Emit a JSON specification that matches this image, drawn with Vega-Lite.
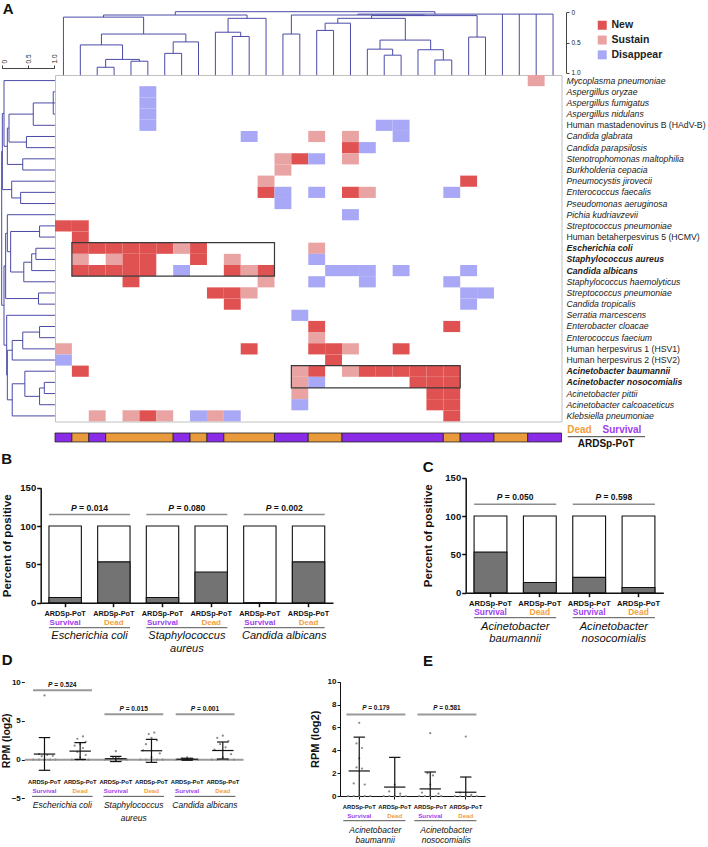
{
  "$schema": "https://vega.github.io/schema/vega-lite/v6.json",
  "width": 708,
  "height": 847,
  "autosize": {"type": "none"},
  "padding": 0,
  "background": "white",
  "config": {
    "view": {"stroke": null},
    "font": "Liberation Sans",
    "axis": {"labelFont": "Liberation Sans", "titleFont": "Liberation Sans", "grid": false, "labelOverlap": false},
    "text": {"font": "Liberation Sans"},
    "legend": {"labelFont": "Liberation Sans"}
  },
  "datasets": {
    "cells": [
      {"c":28,"r":0,"s":"Sustain"},
      {"c":5,"r":1,"s":"Disappear"},{"c":5,"r":2,"s":"Disappear"},{"c":5,"r":3,"s":"Disappear"},
      {"c":5,"r":4,"s":"Disappear"},{"c":19,"r":4,"s":"Disappear"},{"c":20,"r":4,"s":"Disappear"},
      {"c":11,"r":5,"s":"Disappear"},{"c":15,"r":5,"s":"Sustain"},{"c":17,"r":5,"s":"Sustain"},{"c":20,"r":5,"s":"Disappear"},
      {"c":17,"r":6,"s":"New"},{"c":18,"r":6,"s":"Disappear"},
      {"c":13,"r":7,"s":"Sustain"},{"c":14,"r":7,"s":"New"},{"c":15,"r":7,"s":"Disappear"},{"c":17,"r":7,"s":"Sustain"},
      {"c":13,"r":8,"s":"Sustain"},
      {"c":12,"r":9,"s":"Sustain"},{"c":24,"r":9,"s":"New"},
      {"c":12,"r":10,"s":"New"},{"c":13,"r":10,"s":"Disappear"},{"c":15,"r":10,"s":"Disappear"},{"c":17,"r":10,"s":"New"},{"c":18,"r":10,"s":"Sustain"},{"c":23,"r":10,"s":"Disappear"},
      {"c":13,"r":11,"s":"Disappear"},
      {"c":17,"r":12,"s":"Disappear"},
      {"c":0,"r":13,"s":"New"},{"c":1,"r":13,"s":"New"},
      {"c":1,"r":14,"s":"New"},
      {"c":1,"r":15,"s":"New"},{"c":2,"r":15,"s":"New"},{"c":3,"r":15,"s":"New"},{"c":4,"r":15,"s":"New"},{"c":5,"r":15,"s":"New"},{"c":6,"r":15,"s":"New"},{"c":7,"r":15,"s":"Sustain"},{"c":8,"r":15,"s":"New"},{"c":15,"r":15,"s":"Sustain"},
      {"c":1,"r":16,"s":"Sustain"},{"c":3,"r":16,"s":"Sustain"},{"c":4,"r":16,"s":"New"},{"c":5,"r":16,"s":"New"},{"c":8,"r":16,"s":"New"},{"c":10,"r":16,"s":"Sustain"},{"c":15,"r":16,"s":"Disappear"},
      {"c":1,"r":17,"s":"New"},{"c":2,"r":17,"s":"New"},{"c":3,"r":17,"s":"New"},{"c":4,"r":17,"s":"New"},{"c":5,"r":17,"s":"New"},{"c":7,"r":17,"s":"Disappear"},{"c":10,"r":17,"s":"New"},{"c":11,"r":17,"s":"Sustain"},{"c":12,"r":17,"s":"New"},{"c":16,"r":17,"s":"Disappear"},{"c":17,"r":17,"s":"Disappear"},{"c":18,"r":17,"s":"Disappear"},{"c":20,"r":17,"s":"Disappear"},{"c":24,"r":17,"s":"Disappear"},
      {"c":4,"r":18,"s":"New"},{"c":12,"r":18,"s":"Sustain"},{"c":15,"r":18,"s":"Disappear"},{"c":18,"r":18,"s":"Disappear"},{"c":23,"r":18,"s":"Disappear"},
      {"c":9,"r":19,"s":"New"},{"c":10,"r":19,"s":"New"},{"c":11,"r":19,"s":"Sustain"},{"c":24,"r":19,"s":"Disappear"},{"c":25,"r":19,"s":"Disappear"},
      {"c":10,"r":20,"s":"New"},{"c":24,"r":20,"s":"Disappear"},
      {"c":14,"r":21,"s":"Disappear"},
      {"c":15,"r":22,"s":"New"},{"c":23,"r":22,"s":"New"},
      {"c":15,"r":23,"s":"Sustain"},
      {"c":0,"r":24,"s":"Sustain"},{"c":11,"r":24,"s":"New"},{"c":15,"r":24,"s":"New"},{"c":16,"r":24,"s":"New"},{"c":17,"r":24,"s":"Sustain"},{"c":20,"r":24,"s":"New"},
      {"c":0,"r":25,"s":"Disappear"},{"c":16,"r":25,"s":"New"},
      {"c":1,"r":26,"s":"New"},{"c":14,"r":26,"s":"Sustain"},{"c":15,"r":26,"s":"New"},{"c":17,"r":26,"s":"Sustain"},{"c":18,"r":26,"s":"New"},{"c":19,"r":26,"s":"New"},{"c":20,"r":26,"s":"New"},{"c":21,"r":26,"s":"New"},{"c":22,"r":26,"s":"New"},{"c":23,"r":26,"s":"New"},
      {"c":14,"r":27,"s":"Sustain"},{"c":15,"r":27,"s":"Disappear"},{"c":21,"r":27,"s":"New"},{"c":22,"r":27,"s":"New"},{"c":23,"r":27,"s":"New"},
      {"c":14,"r":28,"s":"Sustain"},{"c":22,"r":28,"s":"New"},{"c":23,"r":28,"s":"New"},
      {"c":14,"r":29,"s":"Disappear"},{"c":22,"r":29,"s":"New"},{"c":23,"r":29,"s":"New"},
      {"c":2,"r":30,"s":"Sustain"},{"c":4,"r":30,"s":"Sustain"},{"c":5,"r":30,"s":"New"},{"c":6,"r":30,"s":"Sustain"},{"c":8,"r":30,"s":"Disappear"},{"c":9,"r":30,"s":"Sustain"},{"c":10,"r":30,"s":"Disappear"},{"c":23,"r":30,"s":"New"}
    ],
    "tdend": [
      {"x1":2.5,"x2":3.5,"y1":0.91,"y2":0.91},{"x1":2.5,"x2":2.5,"y1":0.91,"y2":1.04},{"x1":3.5,"x2":3.5,"y1":0.91,"y2":1.04},
      {"x1":4.5,"x2":5.5,"y1":0.81,"y2":0.81},{"x1":4.5,"x2":4.5,"y1":0.81,"y2":1.04},{"x1":5.5,"x2":5.5,"y1":0.81,"y2":1.04},
      {"x1":3,"x2":5,"y1":0.78,"y2":0.78},{"x1":3,"x2":3,"y1":0.78,"y2":0.91},{"x1":5,"x2":5,"y1":0.78,"y2":0.81},
      {"x1":1.5,"x2":4,"y1":0.54,"y2":0.54},{"x1":1.5,"x2":1.5,"y1":0.54,"y2":1.04},{"x1":4,"x2":4,"y1":0.54,"y2":0.78},
      {"x1":6.5,"x2":7.5,"y1":0.68,"y2":0.68},{"x1":6.5,"x2":6.5,"y1":0.68,"y2":1.04},{"x1":7.5,"x2":7.5,"y1":0.68,"y2":1.04},
      {"x1":7,"x2":8.5,"y1":0.49,"y2":0.49},{"x1":7,"x2":7,"y1":0.49,"y2":0.68},{"x1":8.5,"x2":8.5,"y1":0.49,"y2":1.04},
      {"x1":2.75,"x2":7.75,"y1":0.36,"y2":0.36},{"x1":2.75,"x2":2.75,"y1":0.36,"y2":0.54},{"x1":7.75,"x2":7.75,"y1":0.36,"y2":0.49},
      {"x1":0.5,"x2":5.25,"y1":0.08,"y2":0.08},{"x1":0.5,"x2":0.5,"y1":0.08,"y2":1.04},{"x1":5.25,"x2":5.25,"y1":0.08,"y2":0.36},
      {"x1":10.5,"x2":11.5,"y1":0.4,"y2":0.4},{"x1":10.5,"x2":10.5,"y1":0.4,"y2":1.04},{"x1":11.5,"x2":11.5,"y1":0.4,"y2":1.04},
      {"x1":9.5,"x2":11,"y1":0.33,"y2":0.33},{"x1":9.5,"x2":9.5,"y1":0.33,"y2":1.04},{"x1":11,"x2":11,"y1":0.33,"y2":0.4},
      {"x1":10.25,"x2":12.5,"y1":0.1,"y2":0.1},{"x1":10.25,"x2":10.25,"y1":0.1,"y2":0.33},{"x1":12.5,"x2":12.5,"y1":0.1,"y2":1.04},
      {"x1":2.875,"x2":11.375,"y1":0.045,"y2":0.045},{"x1":2.875,"x2":2.875,"y1":0.045,"y2":0.08},{"x1":11.375,"x2":11.375,"y1":0.045,"y2":0.1},
      {"x1":13.5,"x2":14.5,"y1":0.36,"y2":0.36},{"x1":13.5,"x2":13.5,"y1":0.36,"y2":1.04},{"x1":14.5,"x2":14.5,"y1":0.36,"y2":1.04},
      {"x1":15.5,"x2":16.5,"y1":0.3,"y2":0.3},{"x1":15.5,"x2":15.5,"y1":0.3,"y2":1.04},{"x1":16.5,"x2":16.5,"y1":0.3,"y2":1.04},
      {"x1":16,"x2":17.5,"y1":0.18,"y2":0.18},{"x1":16,"x2":16,"y1":0.18,"y2":0.3},{"x1":17.5,"x2":17.5,"y1":0.18,"y2":1.04},
      {"x1":19.5,"x2":20.5,"y1":0.71,"y2":0.71},{"x1":19.5,"x2":19.5,"y1":0.71,"y2":1.04},{"x1":20.5,"x2":20.5,"y1":0.71,"y2":1.04},
      {"x1":18.5,"x2":20,"y1":0.61,"y2":0.61},{"x1":18.5,"x2":18.5,"y1":0.61,"y2":1.04},{"x1":20,"x2":20,"y1":0.61,"y2":0.71},
      {"x1":22.5,"x2":23.5,"y1":0.79,"y2":0.79},{"x1":22.5,"x2":22.5,"y1":0.79,"y2":1.04},{"x1":23.5,"x2":23.5,"y1":0.79,"y2":1.04},
      {"x1":21.5,"x2":23,"y1":0.62,"y2":0.62},{"x1":21.5,"x2":21.5,"y1":0.62,"y2":1.04},{"x1":23,"x2":23,"y1":0.62,"y2":0.79},
      {"x1":19.25,"x2":22.25,"y1":0.46,"y2":0.46},{"x1":19.25,"x2":19.25,"y1":0.46,"y2":0.61},{"x1":22.25,"x2":22.25,"y1":0.46,"y2":0.62},
      {"x1":24.5,"x2":25.5,"y1":0.41,"y2":0.41},{"x1":24.5,"x2":24.5,"y1":0.41,"y2":1.04},{"x1":25.5,"x2":25.5,"y1":0.41,"y2":1.04},
      {"x1":16.75,"x2":20.75,"y1":0.1,"y2":0.1},{"x1":16.75,"x2":16.75,"y1":0.1,"y2":0.18},{"x1":20.75,"x2":20.75,"y1":0.1,"y2":0.46},
      {"x1":18.75,"x2":25,"y1":0.055,"y2":0.055},{"x1":18.75,"x2":18.75,"y1":0.055,"y2":0.1},{"x1":25,"x2":25,"y1":0.055,"y2":0.41},
      {"x1":14,"x2":21.875,"y1":0.045,"y2":0.045},{"x1":14,"x2":14,"y1":0.045,"y2":0.36},{"x1":21.875,"x2":21.875,"y1":0.045,"y2":0.055},
      {"x1":17.94,"x2":29.5,"y1":0.03,"y2":0.03},{"x1":17.94,"x2":17.94,"y1":0.03,"y2":0.045},{"x1":26.5,"x2":26.5,"y1":0.03,"y2":1.04},{"x1":27.5,"x2":27.5,"y1":0.03,"y2":1.04},{"x1":28.5,"x2":28.5,"y1":0.03,"y2":1.04},{"x1":29.5,"x2":29.5,"y1":0.03,"y2":1.04},
      {"x1":7.125,"x2":22.5,"y1":-0.01,"y2":-0.01},{"x1":7.125,"x2":7.125,"y1":-0.01,"y2":0.045},{"x1":22.5,"x2":22.5,"y1":-0.01,"y2":0.03}
    ],
    "ldend": [
      {"x1":0.98,"x2":0.98,"y1":1.5,"y2":3.5},{"x1":0.98,"x2":1.013,"y1":1.5,"y2":1.5},{"x1":0.98,"x2":1.013,"y1":2.5,"y2":2.5},{"x1":0.98,"x2":1.013,"y1":3.5,"y2":3.5},
      {"x1":0.6,"x2":0.6,"y1":2.5,"y2":4.5},{"x1":0.6,"x2":0.98,"y1":2.5,"y2":2.5},{"x1":0.6,"x2":1.013,"y1":4.5,"y2":4.5},
      {"x1":0.47,"x2":0.47,"y1":5.5,"y2":6.5},{"x1":0.47,"x2":1.013,"y1":5.5,"y2":5.5},{"x1":0.47,"x2":1.013,"y1":6.5,"y2":6.5},
      {"x1":0.139,"x2":0.139,"y1":3.5,"y2":6},{"x1":0.139,"x2":0.6,"y1":3.5,"y2":3.5},{"x1":0.139,"x2":0.47,"y1":6,"y2":6},
      {"x1":0.4,"x2":0.4,"y1":7.5,"y2":8.5},{"x1":0.4,"x2":1.013,"y1":7.5,"y2":7.5},{"x1":0.4,"x2":1.013,"y1":8.5,"y2":8.5},
      {"x1":0.107,"x2":0.107,"y1":4.75,"y2":8},{"x1":0.107,"x2":0.139,"y1":4.75,"y2":4.75},{"x1":0.107,"x2":0.4,"y1":8,"y2":8},
      {"x1":0.044,"x2":0.044,"y1":0.5,"y2":6.375},{"x1":0.044,"x2":1.013,"y1":0.5,"y2":0.5},{"x1":0.044,"x2":0.107,"y1":6.375,"y2":6.375},
      {"x1":0.36,"x2":0.36,"y1":10.5,"y2":11.5},{"x1":0.36,"x2":1.013,"y1":10.5,"y2":10.5},{"x1":0.36,"x2":1.013,"y1":11.5,"y2":11.5},
      {"x1":0.19,"x2":0.19,"y1":9.5,"y2":11},{"x1":0.19,"x2":1.013,"y1":9.5,"y2":9.5},{"x1":0.19,"x2":0.36,"y1":11,"y2":11},
      {"x1":0.012,"x2":0.012,"y1":3.44,"y2":10.25},{"x1":0.012,"x2":0.044,"y1":3.44,"y2":3.44},{"x1":0.012,"x2":0.19,"y1":10.25,"y2":10.25},
      {"x1":0.72,"x2":0.72,"y1":13.5,"y2":14.5},{"x1":0.72,"x2":1.013,"y1":13.5,"y2":13.5},{"x1":0.72,"x2":1.013,"y1":14.5,"y2":14.5},
      {"x1":0.65,"x2":0.65,"y1":15.5,"y2":16.5},{"x1":0.65,"x2":1.013,"y1":15.5,"y2":15.5},{"x1":0.65,"x2":1.013,"y1":16.5,"y2":16.5},
      {"x1":0.57,"x2":0.57,"y1":16,"y2":17.5},{"x1":0.57,"x2":0.65,"y1":16,"y2":16},{"x1":0.57,"x2":1.013,"y1":17.5,"y2":17.5},
      {"x1":0.42,"x2":0.42,"y1":16.75,"y2":18.5},{"x1":0.42,"x2":0.57,"y1":16.75,"y2":16.75},{"x1":0.42,"x2":1.013,"y1":18.5,"y2":18.5},
      {"x1":0.17,"x2":0.17,"y1":14,"y2":17.625},{"x1":0.17,"x2":0.72,"y1":14,"y2":14},{"x1":0.17,"x2":0.42,"y1":17.625,"y2":17.625},
      {"x1":0.107,"x2":0.107,"y1":12.5,"y2":15.81},{"x1":0.107,"x2":1.013,"y1":12.5,"y2":12.5},{"x1":0.107,"x2":0.17,"y1":15.81,"y2":15.81},
      {"x1":0.7,"x2":0.7,"y1":19.5,"y2":20.5},{"x1":0.7,"x2":1.013,"y1":19.5,"y2":19.5},{"x1":0.7,"x2":1.013,"y1":20.5,"y2":20.5},
      {"x1":0.075,"x2":0.075,"y1":14.16,"y2":20},{"x1":0.075,"x2":0.107,"y1":14.16,"y2":14.16},{"x1":0.075,"x2":0.7,"y1":20,"y2":20},
      {"x1":0.72,"x2":0.72,"y1":22.5,"y2":23.5},{"x1":0.72,"x2":1.013,"y1":22.5,"y2":22.5},{"x1":0.72,"x2":1.013,"y1":23.5,"y2":23.5},
      {"x1":0.4,"x2":0.4,"y1":23,"y2":24.5},{"x1":0.4,"x2":0.72,"y1":23,"y2":23},{"x1":0.4,"x2":1.013,"y1":24.5,"y2":24.5},
      {"x1":0.2,"x2":0.2,"y1":23.75,"y2":25.5},{"x1":0.2,"x2":0.4,"y1":23.75,"y2":23.75},{"x1":0.2,"x2":1.013,"y1":25.5,"y2":25.5},
      {"x1":0.81,"x2":0.81,"y1":27.5,"y2":28.5},{"x1":0.81,"x2":1.013,"y1":27.5,"y2":27.5},{"x1":0.81,"x2":1.013,"y1":28.5,"y2":28.5},
      {"x1":0.72,"x2":0.72,"y1":28,"y2":29.5},{"x1":0.72,"x2":0.81,"y1":28,"y2":28},{"x1":0.72,"x2":1.013,"y1":29.5,"y2":29.5},
      {"x1":0.44,"x2":0.44,"y1":26.5,"y2":28.75},{"x1":0.44,"x2":1.013,"y1":26.5,"y2":26.5},{"x1":0.44,"x2":0.72,"y1":28.75,"y2":28.75},
      {"x1":0.2,"x2":0.2,"y1":27.625,"y2":30.5},{"x1":0.2,"x2":0.44,"y1":27.625,"y2":27.625},{"x1":0.2,"x2":1.013,"y1":30.5,"y2":30.5},
      {"x1":0.107,"x2":0.107,"y1":24.625,"y2":29.06},{"x1":0.107,"x2":0.2,"y1":24.625,"y2":24.625},{"x1":0.107,"x2":0.2,"y1":29.06,"y2":29.06},
      {"x1":0.095,"x2":0.095,"y1":21.5,"y2":26.84},{"x1":0.095,"x2":1.013,"y1":21.5,"y2":21.5},{"x1":0.095,"x2":0.107,"y1":26.84,"y2":26.84},
      {"x1":0.044,"x2":0.044,"y1":17.08,"y2":24.17},{"x1":0.044,"x2":0.075,"y1":17.08,"y2":17.08},{"x1":0.044,"x2":0.095,"y1":24.17,"y2":24.17},
      {"x1":0,"x2":0,"y1":6.84,"y2":20.6},{"x1":0,"x2":0.012,"y1":6.84,"y2":6.84},{"x1":0,"x2":0.044,"y1":20.6,"y2":20.6}
    ],
    "annot": [
      {"x0":0,"x1":1,"g":"Survival"},{"x0":1,"x1":2,"g":"Dead"},{"x0":2,"x1":3,"g":"Survival"},{"x0":3,"x1":7,"g":"Dead"},
      {"x0":7,"x1":8,"g":"Survival"},{"x0":8,"x1":9,"g":"Dead"},{"x0":9,"x1":10,"g":"Survival"},{"x0":10,"x1":13,"g":"Dead"},
      {"x0":13,"x1":15,"g":"Survival"},{"x0":15,"x1":17,"g":"Dead"},{"x0":17,"x1":23,"g":"Survival"},{"x0":23,"x1":24,"g":"Dead"},
      {"x0":24,"x1":26,"g":"Survival"},{"x0":26,"x1":28,"g":"Dead"},{"x0":28,"x1":30,"g":"Survival"}
    ],
    "boxes": [{"x0":1,"x1":13,"y0":15,"y1":18},{"x0":14,"x1":24,"y0":26,"y1":28}],
    "barsB": [
      {"pos":0,"g":"Survival","pct":6.7,"total":100},{"pos":1,"g":"Dead","pct":53.3,"total":100},
      {"pos":2,"g":"Survival","pct":6.7,"total":100},{"pos":3,"g":"Dead","pct":40,"total":100},
      {"pos":4,"g":"Survival","pct":0,"total":100},{"pos":5,"g":"Dead","pct":53.3,"total":100}
    ],
    "pB": [
      {"a":0,"b":1,"p":"= 0.014","name":"Escherichia coli"},
      {"a":2,"b":3,"p":"= 0.080","name":"Staphylococcus\naureus"},
      {"a":4,"b":5,"p":"= 0.002","name":"Candida albicans"}
    ],
    "barsC": [
      {"pos":0,"g":"Survival","pct":52.9,"total":100},{"pos":1,"g":"Dead","pct":13.3,"total":100},
      {"pos":2,"g":"Survival","pct":20,"total":100},{"pos":3,"g":"Dead","pct":6.7,"total":100}
    ],
    "pC": [
      {"a":0,"b":1,"p":"= 0.050","name":"Acinetobacter\nbaumannii"},
      {"a":2,"b":3,"p":"= 0.598","name":"Acinetobacter\nnosocomialis"}
    ],
    "dotsD": [
      {"pos":0,"v":8.3,"j":0},{"pos":0,"v":0.7,"j":-2},{"pos":0,"v":0.6,"j":1},{"pos":0,"v":0.5,"j":3},{"pos":0,"v":0.45,"j":-1},{"pos":0,"v":0,"j":-4},{"pos":0,"v":0,"j":-2},{"pos":0,"v":0,"j":0},{"pos":0,"v":0,"j":2},{"pos":0,"v":0,"j":4},
      {"pos":1,"v":3.0,"j":1},{"pos":1,"v":2.7,"j":-1},{"pos":1,"v":2.3,"j":2},{"pos":1,"v":2.0,"j":0},{"pos":1,"v":1.8,"j":-2},{"pos":1,"v":1.5,"j":1},{"pos":1,"v":1.0,"j":-1},{"pos":1,"v":0.6,"j":2},{"pos":1,"v":0.3,"j":0},{"pos":1,"v":0,"j":-3},{"pos":1,"v":0,"j":-1},{"pos":1,"v":0,"j":1},{"pos":1,"v":0,"j":3},
      {"pos":2,"v":1.1,"j":0},{"pos":2,"v":0.3,"j":-1},{"pos":2,"v":0.2,"j":1},{"pos":2,"v":0,"j":-4},{"pos":2,"v":0,"j":-2},{"pos":2,"v":0,"j":0},{"pos":2,"v":0,"j":2},{"pos":2,"v":0,"j":4},
      {"pos":3,"v":3.5,"j":1},{"pos":3,"v":3.3,"j":-1},{"pos":3,"v":2.8,"j":0},{"pos":3,"v":2.5,"j":2},{"pos":3,"v":2.0,"j":-2},{"pos":3,"v":1.2,"j":-3},{"pos":3,"v":0.8,"j":3},{"pos":3,"v":0.3,"j":0},{"pos":3,"v":0,"j":-4},{"pos":3,"v":0,"j":-2},{"pos":3,"v":0,"j":2},{"pos":3,"v":0,"j":4},
      {"pos":4,"v":0.3,"j":0},{"pos":4,"v":0.15,"j":-2},{"pos":4,"v":0.1,"j":2},{"pos":4,"v":0,"j":-4},{"pos":4,"v":0,"j":-1},{"pos":4,"v":0,"j":1},{"pos":4,"v":0,"j":4},
      {"pos":5,"v":3.1,"j":0},{"pos":5,"v":2.8,"j":-2},{"pos":5,"v":2.4,"j":2},{"pos":5,"v":2.0,"j":-1},{"pos":5,"v":1.6,"j":1},{"pos":5,"v":1.3,"j":-3},{"pos":5,"v":0.7,"j":3},{"pos":5,"v":0.3,"j":0},{"pos":5,"v":0,"j":-4},{"pos":5,"v":0,"j":-2},{"pos":5,"v":0,"j":2},{"pos":5,"v":0,"j":4}
    ],
    "sumD": [
      {"pos":0,"g":"Survival","mean":0.72,"lo":-1.38,"hi":2.85},
      {"pos":1,"g":"Dead","mean":1.1,"lo":0.02,"hi":2.2},
      {"pos":2,"g":"Survival","mean":0.12,"lo":-0.25,"hi":0.42},
      {"pos":3,"g":"Dead","mean":1.15,"lo":-0.35,"hi":2.62},
      {"pos":4,"g":"Survival","mean":0.05,"lo":-0.08,"hi":0.18},
      {"pos":5,"g":"Dead","mean":1.18,"lo":0.08,"hi":2.28}
    ],
    "pD": [
      {"a":0,"b":1,"p":"= 0.524","ly":8.96,"ty":9.6,"name":"Escherichia coli"},
      {"a":2,"b":3,"p":"= 0.015","ly":5.86,"ty":6.6,"name":"Staphylococcus\naureus"},
      {"a":4,"b":5,"p":"= 0.001","ly":5.86,"ty":6.6,"name":"Candida albicans"}
    ],
    "dotsE": [
      {"pos":0,"v":6.4,"j":0},{"pos":0,"v":4.6,"j":-1},{"pos":0,"v":4.2,"j":1},{"pos":0,"v":3.3,"j":0},{"pos":0,"v":2.5,"j":-1},{"pos":0,"v":2.4,"j":1},{"pos":0,"v":1.1,"j":-2},{"pos":0,"v":1.0,"j":2},{"pos":0,"v":0,"j":-4},{"pos":0,"v":0,"j":-2},{"pos":0,"v":0,"j":0},{"pos":0,"v":0,"j":2},{"pos":0,"v":0,"j":4},
      {"pos":1,"v":1.0,"j":0},{"pos":1,"v":0.4,"j":-2},{"pos":1,"v":0.2,"j":2},{"pos":1,"v":0,"j":-4},{"pos":1,"v":0,"j":-2},{"pos":1,"v":0,"j":0},{"pos":1,"v":0,"j":2},{"pos":1,"v":0,"j":4},
      {"pos":2,"v":5.5,"j":0},{"pos":2,"v":2.0,"j":-1},{"pos":2,"v":1.8,"j":1},{"pos":2,"v":1.0,"j":0},{"pos":2,"v":0.3,"j":-3},{"pos":2,"v":0.2,"j":3},{"pos":2,"v":0,"j":-4},{"pos":2,"v":0,"j":-2},{"pos":2,"v":0,"j":0},{"pos":2,"v":0,"j":2},{"pos":2,"v":0,"j":4},
      {"pos":3,"v":5.2,"j":0},{"pos":3,"v":0.3,"j":-2},{"pos":3,"v":0.1,"j":2},{"pos":3,"v":0,"j":-4},{"pos":3,"v":0,"j":-2},{"pos":3,"v":0,"j":0},{"pos":3,"v":0,"j":2},{"pos":3,"v":0,"j":4}
    ],
    "sumE": [
      {"pos":0,"g":"Survival","mean":2.19,"lo":0,"hi":5.15},
      {"pos":1,"g":"Dead","mean":0.78,"lo":0,"hi":3.38},
      {"pos":2,"g":"Survival","mean":0.62,"lo":0,"hi":2.1},
      {"pos":3,"g":"Dead","mean":0.33,"lo":0,"hi":1.66}
    ],
    "pE": [
      {"a":0,"b":1,"p":"= 0.179","name":"Acinetobacter\nbaumannii"},
      {"a":2,"b":3,"p":"= 0.581","name":"Acinetobacter\nnosocomialis"}
    ]
  },
  "layer": [
    {
      "data": {"name": "cells"},
      "mark": {"type": "rect"},
      "encoding": {
        "x": {"field": "c", "type": "ordinal",
          "scale": {"domain": [0,1,2,3,4,5,6,7,8,9,10,11,12,13,14,15,16,17,18,19,20,21,22,23,24,25,26,27,28,29], "range": [55, 561.5], "paddingInner": 0, "paddingOuter": 0},
          "axis": {"orient": "bottom", "offset": -425.5, "labels": false, "ticks": false, "title": null, "domainColor": "#c0c0c0", "domainWidth": 1}},
        "y": {"field": "r", "type": "ordinal",
          "scale": {"domain": [0,1,2,3,4,5,6,7,8,9,10,11,12,13,14,15,16,17,18,19,20,21,22,23,24,25,26,27,28,29,30], "range": [75, 421.5], "paddingInner": 0, "paddingOuter": 0},
          "axis": {"orient": "right", "offset": -146.5, "ticks": false, "title": null, "domainColor": "#c0c0c0", "domainWidth": 1,
            "labelPadding": 4.5, "labelFontSize": 8.7, "labelColor": "#222",
            "labelExpr": "['Mycoplasma pneumoniae','Aspergillus oryzae','Aspergillus fumigatus','Aspergillus nidulans','Human mastadenovirus B (HAdV-B)','Candida glabrata','Candida parapsilosis','Stenotrophomonas maltophilia','Burkholderia cepacia','Pneumocystis jirovecii','Enterococcus faecalis','Pseudomonas aeruginosa','Pichia kudriavzevii','Streptococcus pneumoniae','Human betaherpesvirus 5 (HCMV)','Escherichia coli','Staphylococcus aureus','Candida albicans','Staphylococcus haemolyticus','Streptococcus pneumoniae','Candida tropicalis','Serratia marcescens','Enterobacter cloacae','Enterococcus faecium','Human herpesvirus 1 (HSV1)','Human herpesvirus 2 (HSV2)','Acinetobacter baumannii','Acinetobacter nosocomialis','Acinetobacter pittii','Acinetobacter calcoaceticus','Klebsiella pneumoniae'][datum.value]",
            "labelFontStyle": {"condition": {"test": "indexof([4,14,24,25], datum.value) >= 0", "value": "normal"}, "value": "italic"},
            "labelFontWeight": {"condition": {"test": "indexof([15,16,17,26,27], datum.value) >= 0", "value": "bold"}, "value": "normal"}}},
        "fill": {"field": "s", "type": "nominal",
          "scale": {"domain": ["New", "Sustain", "Disappear"], "range": ["#e05252", "#e9a3a3", "#a8a8f6"]},
          "legend": {"orient": "none", "legendX": 597, "legendY": 20, "title": null, "symbolType": "square", "symbolSize": 81, "symbolStrokeWidth": 0,
            "labelFontSize": 10.5, "labelFontWeight": "bold", "labelColor": "#222", "rowPadding": 3.8, "labelOffset": 4, "padding": 0}}
      }
    },
    {
      "data": {"name": "tdend"},
      "mark": {"type": "rule", "color": "#4a4aa8", "strokeWidth": 1},
      "encoding": {
        "x": {"field": "x1", "type": "quantitative", "scale": {"domain": [0, 30], "range": [55, 561.5], "nice": false, "zero": false},
          "axis": {"orient": "bottom", "offset": -772, "labels": false, "ticks": false, "title": null, "domainColor": "#c0c0c0", "domainWidth": 1}},
        "x2": {"field": "x2"},
        "y": {"field": "y1", "type": "quantitative", "scale": {"domain": [0, 1], "range": [12.3, 72.7], "nice": false, "zero": false},
          "axis": {"orient": "right", "offset": -142, "values": [0, 0.5, 1], "labelExpr": "datum.value == 0 ? '0' : format(datum.value, '.1f')",
            "tickSize": 3, "labelFontSize": 6.5, "labelPadding": 2, "labelColor": "#222", "domainColor": "#444", "tickColor": "#444", "title": null}},
        "y2": {"field": "y2"}
      }
    },
    {
      "data": {"name": "ldend"},
      "mark": {"type": "rule", "color": "#4a4aa8", "strokeWidth": 1},
      "encoding": {
        "x": {"field": "x1", "type": "quantitative", "scale": {"domain": [0, 1], "range": [1.7, 54.3], "nice": false, "zero": false},
          "axis": {"orient": "top", "offset": -68, "values": [0, 0.5, 1], "labelExpr": "datum.value == 0 ? '0' : format(datum.value, '.1f')",
            "labelAngle": -90, "labelAlign": "left",
            "labelBaseline": {"condition": {"test": "datum.value == 0", "value": "top"}, "value": "middle"},
            "tickSize": 3, "labelFontSize": 6.5, "labelPadding": 2, "labelColor": "#222",
            "domainColor": "#444", "tickColor": "#444", "title": null}},
        "x2": {"field": "x2"},
        "y": {"field": "y1", "type": "quantitative", "scale": {"domain": [0, 31], "range": [75, 421.5], "nice": false, "zero": false},
          "axis": {"orient": "left", "offset": -55, "labels": false, "ticks": false, "title": null, "domainColor": "#c0c0c0", "domainWidth": 1}},
        "y2": {"field": "y2"}
      }
    },
    {
      "layer": [
        {
          "data": {"name": "annot"},
          "mark": {"type": "rect", "stroke": "#222", "strokeWidth": 0.8},
          "encoding": {
            "x": {"field": "x0", "type": "quantitative", "scale": {"domain": [0, 30], "range": [55, 561.5], "nice": false, "zero": false}, "axis": null},
            "x2": {"field": "x1"},
            "y": {"datum": 32.03, "type": "quantitative", "scale": {"domain": [0, 31], "range": [75, 421.5], "nice": false, "zero": false}, "axis": null},
            "y2": {"datum": 32.83},
            "fill": {"condition": {"test": "datum.g === 'Survival'", "value": "#8a2be8"}, "value": "#e99a3c"}
          }
        },
        {
          "data": {"name": "boxes"},
          "mark": {"type": "rect", "fill": null, "fillOpacity": 0, "stroke": "#3a3a3a", "strokeWidth": 1.2},
          "encoding": {
            "x": {"field": "x0", "type": "quantitative", "scale": {"domain": [0, 30], "range": [55, 561.5], "nice": false, "zero": false}, "axis": null},
            "x2": {"field": "x1"},
            "y": {"field": "y0", "type": "quantitative", "scale": {"domain": [0, 31], "range": [75, 421.5], "nice": false, "zero": false}, "axis": null},
            "y2": {"field": "y1"}
          }
        },
        {
          "data": {"values": [{}]},
          "mark": {"type": "text", "text": "Dead", "fontWeight": "bold", "fontSize": 10, "color": "#f2a03c", "baseline": "middle"},
          "encoding": {
            "x": {"datum": 31.06, "type": "quantitative", "scale": {"domain": [0, 30], "range": [55, 561.5], "nice": false, "zero": false}, "axis": null},
            "y": {"datum": 31.76, "type": "quantitative", "scale": {"domain": [0, 31], "range": [75, 421.5], "nice": false, "zero": false}, "axis": null}
          }
        },
        {
          "data": {"values": [{}]},
          "mark": {"type": "text", "text": "Survival", "fontWeight": "bold", "fontSize": 10, "color": "#a03cf0", "baseline": "middle"},
          "encoding": {
            "x": {"datum": 33.58, "type": "quantitative", "scale": {"domain": [0, 30], "range": [55, 561.5], "nice": false, "zero": false}, "axis": null},
            "y": {"datum": 31.76, "type": "quantitative", "scale": {"domain": [0, 31], "range": [75, 421.5], "nice": false, "zero": false}, "axis": null}
          }
        },
        {
          "data": {"values": [{}]},
          "mark": {"type": "rule", "color": "#444", "strokeWidth": 1},
          "encoding": {
            "x": {"datum": 30.37, "type": "quantitative", "scale": {"domain": [0, 30], "range": [55, 561.5], "nice": false, "zero": false}, "axis": null},
            "x2": {"datum": 34.95},
            "y": {"datum": 32.36, "type": "quantitative", "scale": {"domain": [0, 31], "range": [75, 421.5], "nice": false, "zero": false}, "axis": null}
          }
        },
        {
          "data": {"values": [{}]},
          "mark": {"type": "text", "text": "ARDSp-PoT", "fontWeight": "bold", "fontSize": 10, "color": "#111", "baseline": "middle"},
          "encoding": {
            "x": {"datum": 32.64, "type": "quantitative", "scale": {"domain": [0, 30], "range": [55, 561.5], "nice": false, "zero": false}, "axis": null},
            "y": {"datum": 33.04, "type": "quantitative", "scale": {"domain": [0, 31], "range": [75, 421.5], "nice": false, "zero": false}, "axis": null}
          }
        },
        {
          "data": {"values": [{}]},
          "mark": {"type": "text", "text": "A", "fontWeight": "bold", "fontSize": 15, "color": "#111", "baseline": "middle"},
          "encoding": {
            "x": {"datum": -2.77, "type": "quantitative", "scale": {"domain": [0, 30], "range": [55, 561.5], "nice": false, "zero": false}, "axis": null},
            "y": {"datum": -5.9, "type": "quantitative", "scale": {"domain": [0, 31], "range": [75, 421.5], "nice": false, "zero": false}, "axis": null}
          }
        },
        {
          "data": {"values": [{}]},
          "mark": {"type": "text", "text": "B", "fontWeight": "bold", "fontSize": 15, "color": "#111", "baseline": "middle"},
          "encoding": {
            "x": {"datum": -2.86, "type": "quantitative", "scale": {"domain": [0, 30], "range": [55, 561.5], "nice": false, "zero": false}, "axis": null},
            "y": {"datum": 34.33, "type": "quantitative", "scale": {"domain": [0, 31], "range": [75, 421.5], "nice": false, "zero": false}, "axis": null}
          }
        },
        {
          "data": {"values": [{}]},
          "mark": {"type": "text", "text": "C", "fontWeight": "bold", "fontSize": 15, "color": "#111", "baseline": "middle"},
          "encoding": {
            "x": {"datum": 22.11, "type": "quantitative", "scale": {"domain": [0, 30], "range": [55, 561.5], "nice": false, "zero": false}, "axis": null},
            "y": {"datum": 35.03, "type": "quantitative", "scale": {"domain": [0, 31], "range": [75, 421.5], "nice": false, "zero": false}, "axis": null}
          }
        },
        {
          "data": {"values": [{}]},
          "mark": {"type": "text", "text": "D", "fontWeight": "bold", "fontSize": 15, "color": "#111", "baseline": "middle"},
          "encoding": {
            "x": {"datum": -2.84, "type": "quantitative", "scale": {"domain": [0, 30], "range": [55, 561.5], "nice": false, "zero": false}, "axis": null},
            "y": {"datum": 52.33, "type": "quantitative", "scale": {"domain": [0, 31], "range": [75, 421.5], "nice": false, "zero": false}, "axis": null}
          }
        },
        {
          "data": {"values": [{}]},
          "mark": {"type": "text", "text": "E", "fontWeight": "bold", "fontSize": 15, "color": "#111", "baseline": "middle"},
          "encoding": {
            "x": {"datum": 22.1, "type": "quantitative", "scale": {"domain": [0, 30], "range": [55, 561.5], "nice": false, "zero": false}, "axis": null},
            "y": {"datum": 52.4, "type": "quantitative", "scale": {"domain": [0, 31], "range": [75, 421.5], "nice": false, "zero": false}, "axis": null}
          }
        }
      ]
    },
    {
      "data": {"name": "barsB"},
      "mark": {"type": "bar", "fill": "white", "stroke": "#111", "strokeWidth": 1.1},
      "encoding": {
        "x": {"field": "pos", "type": "ordinal", "scale": {"domain": [0,1,2,3,4,5], "range": [40.7, 333], "paddingInner": 0.335, "paddingOuter": 0.17},
          "axis": {"orient": "bottom", "offset": -244.3, "title": null, "domainColor": "#111", "domainWidth": 1.5, "tickColor": "#111", "tickWidth": 1.5, "tickSize": 4,
            "labelExpr": "'ARDSp-PoT'", "labelFontSize": 7.3, "labelFontWeight": "bold", "labelColor": "#111", "labelPadding": 2.6, "labelAngle": 0}},
        "y": {"field": "total", "type": "quantitative", "scale": {"domain": [0, 150], "range": [602.7, 487.7], "nice": false, "zero": false},
          "axis": {"orient": "left", "offset": -40.7, "values": [0, 50, 100, 150], "title": "Percent of positive", "titleFontSize": 11.5, "titleFontWeight": "bold", "titleColor": "#111", "titlePadding": 7,
            "domainColor": "#111", "domainWidth": 1.5, "tickColor": "#111", "tickWidth": 1.5, "tickSize": 4, "labelFontSize": 9.5, "labelFontWeight": "bold", "labelColor": "#111", "labelPadding": 1}}
      }
    },
    {
      "layer": [
        {
          "data": {"name": "barsB"},
          "mark": {"type": "bar", "fill": "#737373", "stroke": "#111", "strokeWidth": 1.1},
          "encoding": {
            "x": {"field": "pos", "type": "ordinal", "scale": {"domain": [0,1,2,3,4,5], "range": [40.7, 333], "paddingInner": 0.335, "paddingOuter": 0.17}, "axis": null},
            "y": {"field": "pct", "type": "quantitative", "scale": {"domain": [0, 150], "range": [602.7, 487.7], "nice": false, "zero": false}, "axis": null}
          }
        },
        {
          "data": {"name": "pB"},
          "mark": {"type": "rule", "color": "#8c8c8c", "strokeWidth": 1.5},
          "encoding": {
            "x": {"field": "a", "type": "ordinal", "bandPosition": 0, "scale": {"domain": [0,1,2,3,4,5], "range": [40.7, 333], "paddingInner": 0.335, "paddingOuter": 0.17}, "axis": null},
            "x2": {"field": "b", "bandPosition": 1},
            "y": {"datum": 115, "type": "quantitative", "scale": {"domain": [0, 150], "range": [602.7, 487.7], "nice": false, "zero": false}, "axis": null}
          }
        },
        {
          "data": {"name": "pB"},
          "mark": {"type": "text", "text": "P", "fontStyle": "italic", "fontWeight": "bold", "fontSize": 8.6, "align": "left", "baseline": "middle", "dx": -18.5, "color": "#111"},
          "encoding": {
            "x": {"field": "a", "type": "ordinal", "bandPosition": 1.252, "scale": {"domain": [0,1,2,3,4,5], "range": [40.7, 333], "paddingInner": 0.335, "paddingOuter": 0.17}, "axis": null},
            "y": {"datum": 123, "type": "quantitative", "scale": {"domain": [0, 150], "range": [602.7, 487.7], "nice": false, "zero": false}, "axis": null}
          }
        },
        {
          "data": {"name": "pB"},
          "mark": {"type": "text", "fontWeight": "bold", "fontSize": 8.6, "align": "left", "baseline": "middle", "dx": -10.4, "color": "#111"},
          "encoding": {
            "text": {"field": "p"},
            "x": {"field": "a", "type": "ordinal", "bandPosition": 1.252, "scale": {"domain": [0,1,2,3,4,5], "range": [40.7, 333], "paddingInner": 0.335, "paddingOuter": 0.17}, "axis": null},
            "y": {"datum": 123, "type": "quantitative", "scale": {"domain": [0, 150], "range": [602.7, 487.7], "nice": false, "zero": false}, "axis": null}
          }
        },
        {
          "data": {"name": "barsB"},
          "mark": {"type": "text", "fontWeight": "bold", "fontSize": 8, "baseline": "middle"},
          "encoding": {
            "text": {"field": "g"},
            "x": {"field": "pos", "type": "ordinal", "scale": {"domain": [0,1,2,3,4,5], "range": [40.7, 333], "paddingInner": 0.335, "paddingOuter": 0.17}, "axis": null},
            "y": {"datum": -26.1, "type": "quantitative", "scale": {"domain": [0, 150], "range": [602.7, 487.7], "nice": false, "zero": false}, "axis": null},
            "color": {"condition": {"test": "datum.g === 'Survival'", "value": "#a03cf0"}, "value": "#f2a03c"}
          }
        },
        {
          "data": {"name": "pB"},
          "mark": {"type": "rule", "color": "#555", "strokeWidth": 1},
          "encoding": {
            "x": {"field": "a", "type": "ordinal", "bandPosition": 0, "scale": {"domain": [0,1,2,3,4,5], "range": [40.7, 333], "paddingInner": 0.335, "paddingOuter": 0.17}, "axis": null},
            "x2": {"field": "b", "bandPosition": 1},
            "y": {"datum": -32.6, "type": "quantitative", "scale": {"domain": [0, 150], "range": [602.7, 487.7], "nice": false, "zero": false}, "axis": null}
          }
        },
        {
          "data": {"name": "pB"},
          "mark": {"type": "text", "fontStyle": "italic", "fontSize": 11, "baseline": "top", "lineBreak": "\n", "lineHeight": 12.3, "color": "#111"},
          "encoding": {
            "text": {"field": "name"},
            "x": {"field": "a", "type": "ordinal", "bandPosition": 1.252, "scale": {"domain": [0,1,2,3,4,5], "range": [40.7, 333], "paddingInner": 0.335, "paddingOuter": 0.17}, "axis": null},
            "y": {"datum": -35.9, "type": "quantitative", "scale": {"domain": [0, 150], "range": [602.7, 487.7], "nice": false, "zero": false}, "axis": null}
          }
        }
      ]
    },
    {
      "data": {"name": "barsC"},
      "mark": {"type": "bar", "fill": "white", "stroke": "#111", "strokeWidth": 1.1},
      "encoding": {
        "x": {"field": "pos", "type": "ordinal", "scale": {"domain": [0,1,2,3], "range": [465.7, 663.3], "paddingInner": 0.335, "paddingOuter": 0.17},
          "axis": {"orient": "bottom", "offset": -254.3, "title": null, "domainColor": "#111", "domainWidth": 1.5, "tickColor": "#111", "tickWidth": 1.5, "tickSize": 4,
            "labelExpr": "'ARDSp-PoT'", "labelFontSize": 7.6, "labelFontWeight": "bold", "labelColor": "#111", "labelPadding": 2.8, "labelAngle": 0}},
        "y": {"field": "total", "type": "quantitative", "scale": {"domain": [0, 150], "range": [592.7, 477.7], "nice": false, "zero": false},
          "axis": {"orient": "left", "offset": -465.7, "values": [0, 50, 100, 150], "title": "Percent of positive", "titleFontSize": 11.5, "titleFontWeight": "bold", "titleColor": "#111", "titlePadding": 11,
            "domainColor": "#111", "domainWidth": 1.5, "tickColor": "#111", "tickWidth": 1.5, "tickSize": 4, "labelFontSize": 9.5, "labelFontWeight": "bold", "labelColor": "#111", "labelPadding": 1}}
      }
    },
    {
      "layer": [
        {
          "data": {"name": "barsC"},
          "mark": {"type": "bar", "fill": "#737373", "stroke": "#111", "strokeWidth": 1.1},
          "encoding": {
            "x": {"field": "pos", "type": "ordinal", "scale": {"domain": [0,1,2,3], "range": [465.7, 663.3], "paddingInner": 0.335, "paddingOuter": 0.17}, "axis": null},
            "y": {"field": "pct", "type": "quantitative", "scale": {"domain": [0, 150], "range": [592.7, 477.7], "nice": false, "zero": false}, "axis": null}
          }
        },
        {
          "data": {"name": "pC"},
          "mark": {"type": "rule", "color": "#8c8c8c", "strokeWidth": 1.5},
          "encoding": {
            "x": {"field": "a", "type": "ordinal", "bandPosition": 0, "scale": {"domain": [0,1,2,3], "range": [465.7, 663.3], "paddingInner": 0.335, "paddingOuter": 0.17}, "axis": null},
            "x2": {"field": "b", "bandPosition": 1},
            "y": {"datum": 115.3, "type": "quantitative", "scale": {"domain": [0, 150], "range": [592.7, 477.7], "nice": false, "zero": false}, "axis": null}
          }
        },
        {
          "data": {"name": "pC"},
          "mark": {"type": "text", "text": "P", "fontStyle": "italic", "fontWeight": "bold", "fontSize": 8.5, "align": "left", "baseline": "middle", "dx": -18.3, "color": "#111"},
          "encoding": {
            "x": {"field": "a", "type": "ordinal", "bandPosition": 1.252, "scale": {"domain": [0,1,2,3], "range": [465.7, 663.3], "paddingInner": 0.335, "paddingOuter": 0.17}, "axis": null},
            "y": {"datum": 124.4, "type": "quantitative", "scale": {"domain": [0, 150], "range": [592.7, 477.7], "nice": false, "zero": false}, "axis": null}
          }
        },
        {
          "data": {"name": "pC"},
          "mark": {"type": "text", "fontWeight": "bold", "fontSize": 8.5, "align": "left", "baseline": "middle", "dx": -10.3, "color": "#111"},
          "encoding": {
            "text": {"field": "p"},
            "x": {"field": "a", "type": "ordinal", "bandPosition": 1.252, "scale": {"domain": [0,1,2,3], "range": [465.7, 663.3], "paddingInner": 0.335, "paddingOuter": 0.17}, "axis": null},
            "y": {"datum": 124.4, "type": "quantitative", "scale": {"domain": [0, 150], "range": [592.7, 477.7], "nice": false, "zero": false}, "axis": null}
          }
        },
        {
          "data": {"name": "barsC"},
          "mark": {"type": "text", "fontWeight": "bold", "fontSize": 8.4, "baseline": "middle"},
          "encoding": {
            "text": {"field": "g"},
            "x": {"field": "pos", "type": "ordinal", "scale": {"domain": [0,1,2,3], "range": [465.7, 663.3], "paddingInner": 0.335, "paddingOuter": 0.17}, "axis": null},
            "y": {"datum": -25.6, "type": "quantitative", "scale": {"domain": [0, 150], "range": [592.7, 477.7], "nice": false, "zero": false}, "axis": null},
            "color": {"condition": {"test": "datum.g === 'Survival'", "value": "#a03cf0"}, "value": "#f2a03c"}
          }
        },
        {
          "data": {"name": "pC"},
          "mark": {"type": "rule", "color": "#555", "strokeWidth": 1},
          "encoding": {
            "x": {"field": "a", "type": "ordinal", "bandPosition": 0, "scale": {"domain": [0,1,2,3], "range": [465.7, 663.3], "paddingInner": 0.335, "paddingOuter": 0.17}, "axis": null},
            "x2": {"field": "b", "bandPosition": 1},
            "y": {"datum": -32.6, "type": "quantitative", "scale": {"domain": [0, 150], "range": [592.7, 477.7], "nice": false, "zero": false}, "axis": null}
          }
        },
        {
          "data": {"name": "pC"},
          "mark": {"type": "text", "fontStyle": "italic", "fontSize": 11.2, "baseline": "top", "lineBreak": "\n", "lineHeight": 11.8, "color": "#111"},
          "encoding": {
            "text": {"field": "name"},
            "x": {"field": "a", "type": "ordinal", "bandPosition": 1.252, "scale": {"domain": [0,1,2,3], "range": [465.7, 663.3], "paddingInner": 0.335, "paddingOuter": 0.17}, "axis": null},
            "y": {"datum": -37, "type": "quantitative", "scale": {"domain": [0, 150], "range": [592.7, 477.7], "nice": false, "zero": false}, "axis": null}
          }
        }
      ]
    },
    {
      "data": {"name": "dotsD"},
      "mark": {"type": "point", "filled": true, "size": 5, "color": "#8a8a8a", "opacity": 1},
      "encoding": {
        "x": {"field": "pos", "type": "ordinal", "scale": {"domain": [0,1,2,3,4,5], "range": [24.3, 243], "paddingInner": 0, "paddingOuter": 0.066},
          "axis": {"orient": "bottom", "offset": -87.7, "title": null, "domainColor": "#9a9a9a", "domainWidth": 2, "ticks": false, "tickSize": 0,
            "labelExpr": "'ARDSp-PoT'", "labelFontSize": 5.8, "labelFontWeight": "bold", "labelColor": "#111", "labelPadding": 19.5, "labelAngle": 0}},
        "xOffset": {"field": "j", "type": "quantitative", "scale": {"domain": [-5, 5], "range": [4, 31.67]}},
        "y": {"field": "v", "type": "quantitative", "scale": {"domain": [-5, 10], "range": [798.3, 682.3], "nice": false, "zero": false},
          "axis": {"orient": "left", "offset": -24.3, "values": [-5, 0, 5, 10], "title": "RPM (log2)", "titleFontSize": 10.5, "titleFontWeight": "bold", "titleColor": "#111", "titlePadding": 0,
            "domain": false, "tickColor": "#111", "tickWidth": 1, "tickSize": 3, "labelFontSize": 8, "labelFontWeight": "bold", "labelColor": "#111", "labelPadding": 1}}
      }
    },
    {
      "layer": [
        {
          "data": {"name": "sumD"},
          "mark": {"type": "rule", "color": "#111", "strokeWidth": 1.2},
          "encoding": {
            "x": {"field": "pos", "type": "ordinal", "bandPosition": 0.2, "scale": {"domain": [0,1,2,3,4,5], "range": [24.3, 243], "paddingInner": 0, "paddingOuter": 0.066}, "axis": null},
            "x2": {"field": "pos", "bandPosition": 0.8},
            "y": {"field": "mean", "type": "quantitative", "scale": {"domain": [-5, 10], "range": [798.3, 682.3], "nice": false, "zero": false}, "axis": null}
          }
        },
        {
          "data": {"name": "sumD"},
          "mark": {"type": "rule", "color": "#111", "strokeWidth": 1.2},
          "encoding": {
            "x": {"field": "pos", "type": "ordinal", "bandPosition": 0.5, "scale": {"domain": [0,1,2,3,4,5], "range": [24.3, 243], "paddingInner": 0, "paddingOuter": 0.066}, "axis": null},
            "y": {"field": "lo", "type": "quantitative", "scale": {"domain": [-5, 10], "range": [798.3, 682.3], "nice": false, "zero": false}, "axis": null},
            "y2": {"field": "hi"}
          }
        },
        {
          "data": {"name": "sumD"},
          "mark": {"type": "rule", "color": "#111", "strokeWidth": 1.2},
          "encoding": {
            "x": {"field": "pos", "type": "ordinal", "bandPosition": 0.34, "scale": {"domain": [0,1,2,3,4,5], "range": [24.3, 243], "paddingInner": 0, "paddingOuter": 0.066}, "axis": null},
            "x2": {"field": "pos", "bandPosition": 0.66},
            "y": {"field": "hi", "type": "quantitative", "scale": {"domain": [-5, 10], "range": [798.3, 682.3], "nice": false, "zero": false}, "axis": null}
          }
        },
        {
          "data": {"name": "sumD"},
          "mark": {"type": "rule", "color": "#111", "strokeWidth": 1.2},
          "encoding": {
            "x": {"field": "pos", "type": "ordinal", "bandPosition": 0.34, "scale": {"domain": [0,1,2,3,4,5], "range": [24.3, 243], "paddingInner": 0, "paddingOuter": 0.066}, "axis": null},
            "x2": {"field": "pos", "bandPosition": 0.66},
            "y": {"field": "lo", "type": "quantitative", "scale": {"domain": [-5, 10], "range": [798.3, 682.3], "nice": false, "zero": false}, "axis": null}
          }
        },
        {
          "data": {"name": "pD"},
          "mark": {"type": "rule", "color": "#999", "strokeWidth": 2},
          "encoding": {
            "x": {"field": "a", "type": "ordinal", "bandPosition": 0.18, "scale": {"domain": [0,1,2,3,4,5], "range": [24.3, 243], "paddingInner": 0, "paddingOuter": 0.066}, "axis": null},
            "x2": {"field": "b", "bandPosition": 0.83},
            "y": {"field": "ly", "type": "quantitative", "scale": {"domain": [-5, 10], "range": [798.3, 682.3], "nice": false, "zero": false}, "axis": null}
          }
        },
        {
          "data": {"name": "pD"},
          "mark": {"type": "text", "text": "P", "fontStyle": "italic", "fontWeight": "bold", "fontSize": 6.6, "align": "left", "baseline": "middle", "dx": -14.2, "color": "#111"},
          "encoding": {
            "x": {"field": "a", "type": "ordinal", "bandPosition": 1.0, "scale": {"domain": [0,1,2,3,4,5], "range": [24.3, 243], "paddingInner": 0, "paddingOuter": 0.066}, "axis": null},
            "y": {"field": "ty", "type": "quantitative", "scale": {"domain": [-5, 10], "range": [798.3, 682.3], "nice": false, "zero": false}, "axis": null}
          }
        },
        {
          "data": {"name": "pD"},
          "mark": {"type": "text", "fontWeight": "bold", "fontSize": 6.6, "align": "left", "baseline": "middle", "dx": -8, "color": "#111"},
          "encoding": {
            "text": {"field": "p"},
            "x": {"field": "a", "type": "ordinal", "bandPosition": 1.0, "scale": {"domain": [0,1,2,3,4,5], "range": [24.3, 243], "paddingInner": 0, "paddingOuter": 0.066}, "axis": null},
            "y": {"field": "ty", "type": "quantitative", "scale": {"domain": [-5, 10], "range": [798.3, 682.3], "nice": false, "zero": false}, "axis": null}
          }
        },
        {
          "data": {"name": "sumD"},
          "mark": {"type": "text", "fontWeight": "bold", "fontSize": 6.2, "baseline": "middle"},
          "encoding": {
            "text": {"field": "g"},
            "x": {"field": "pos", "type": "ordinal", "scale": {"domain": [0,1,2,3,4,5], "range": [24.3, 243], "paddingInner": 0, "paddingOuter": 0.066}, "axis": null},
            "y": {"datum": -4.1, "type": "quantitative", "scale": {"domain": [-5, 10], "range": [798.3, 682.3], "nice": false, "zero": false}, "axis": null},
            "color": {"condition": {"test": "datum.g === 'Survival'", "value": "#a03cf0"}, "value": "#f2a03c"}
          }
        },
        {
          "data": {"name": "pD"},
          "mark": {"type": "rule", "color": "#555", "strokeWidth": 1},
          "encoding": {
            "x": {"field": "a", "type": "ordinal", "bandPosition": 0.15, "scale": {"domain": [0,1,2,3,4,5], "range": [24.3, 243], "paddingInner": 0, "paddingOuter": 0.066}, "axis": null},
            "x2": {"field": "b", "bandPosition": 0.85},
            "y": {"datum": -4.75, "type": "quantitative", "scale": {"domain": [-5, 10], "range": [798.3, 682.3], "nice": false, "zero": false}, "axis": null}
          }
        },
        {
          "data": {"name": "pD"},
          "mark": {"type": "text", "fontStyle": "italic", "fontSize": 8.5, "baseline": "top", "lineBreak": "\n", "lineHeight": 12.5, "color": "#111"},
          "encoding": {
            "text": {"field": "name"},
            "x": {"field": "a", "type": "ordinal", "bandPosition": 1.0, "scale": {"domain": [0,1,2,3,4,5], "range": [24.3, 243], "paddingInner": 0, "paddingOuter": 0.066}, "axis": null},
            "y": {"datum": -5.37, "type": "quantitative", "scale": {"domain": [-5, 10], "range": [798.3, 682.3], "nice": false, "zero": false}, "axis": null}
          }
        }
      ]
    },
    {
      "data": {"name": "dotsE"},
      "mark": {"type": "point", "filled": true, "size": 5, "color": "#8a8a8a", "opacity": 1},
      "encoding": {
        "x": {"field": "pos", "type": "ordinal", "scale": {"domain": [0,1,2,3], "range": [340, 485], "paddingInner": 0, "paddingOuter": 0.042},
          "axis": {"orient": "bottom", "offset": -51, "title": null, "domainColor": "#111", "domainWidth": 1, "tickColor": "#111", "tickSize": 3,
            "labelExpr": "'ARDSp-PoT'", "labelFontSize": 5.8, "labelFontWeight": "bold", "labelColor": "#111", "labelPadding": 4, "labelAngle": 0}},
        "xOffset": {"field": "j", "type": "quantitative", "scale": {"domain": [-5, 5], "range": [4, 31.5]}},
        "y": {"field": "v", "type": "quantitative", "scale": {"domain": [0, 10], "range": [796, 681.7], "nice": false, "zero": false},
          "axis": {"orient": "left", "offset": -340, "values": [0, 2, 4, 6, 8, 10], "title": "RPM (log2)", "titleFontSize": 11, "titleFontWeight": "bold", "titleColor": "#111", "titlePadding": 7,
            "domainColor": "#111", "domainWidth": 1, "tickColor": "#111", "tickWidth": 1, "tickSize": 3, "labelFontSize": 8, "labelFontWeight": "bold", "labelColor": "#111", "labelPadding": 1}}
      }
    },
    {
      "layer": [
        {
          "data": {"name": "sumE"},
          "mark": {"type": "rule", "color": "#111", "strokeWidth": 1.2},
          "encoding": {
            "x": {"field": "pos", "type": "ordinal", "bandPosition": 0.2, "scale": {"domain": [0,1,2,3], "range": [340, 485], "paddingInner": 0, "paddingOuter": 0.042}, "axis": null},
            "x2": {"field": "pos", "bandPosition": 0.8},
            "y": {"field": "mean", "type": "quantitative", "scale": {"domain": [0, 10], "range": [796, 681.7], "nice": false, "zero": false}, "axis": null}
          }
        },
        {
          "data": {"name": "sumE"},
          "mark": {"type": "rule", "color": "#111", "strokeWidth": 1.2},
          "encoding": {
            "x": {"field": "pos", "type": "ordinal", "bandPosition": 0.5, "scale": {"domain": [0,1,2,3], "range": [340, 485], "paddingInner": 0, "paddingOuter": 0.042}, "axis": null},
            "y": {"field": "lo", "type": "quantitative", "scale": {"domain": [0, 10], "range": [796, 681.7], "nice": false, "zero": false}, "axis": null},
            "y2": {"field": "hi"}
          }
        },
        {
          "data": {"name": "sumE"},
          "mark": {"type": "rule", "color": "#111", "strokeWidth": 1.2},
          "encoding": {
            "x": {"field": "pos", "type": "ordinal", "bandPosition": 0.34, "scale": {"domain": [0,1,2,3], "range": [340, 485], "paddingInner": 0, "paddingOuter": 0.042}, "axis": null},
            "x2": {"field": "pos", "bandPosition": 0.66},
            "y": {"field": "hi", "type": "quantitative", "scale": {"domain": [0, 10], "range": [796, 681.7], "nice": false, "zero": false}, "axis": null}
          }
        },
        {
          "data": {"name": "pE"},
          "mark": {"type": "rule", "color": "#999", "strokeWidth": 2},
          "encoding": {
            "x": {"field": "a", "type": "ordinal", "bandPosition": 0.14, "scale": {"domain": [0,1,2,3], "range": [340, 485], "paddingInner": 0, "paddingOuter": 0.042}, "axis": null},
            "x2": {"field": "b", "bandPosition": 0.8},
            "y": {"datum": 7.13, "type": "quantitative", "scale": {"domain": [0, 10], "range": [796, 681.7], "nice": false, "zero": false}, "axis": null}
          }
        },
        {
          "data": {"name": "pE"},
          "mark": {"type": "text", "text": "P", "fontStyle": "italic", "fontWeight": "bold", "fontSize": 6.4, "align": "left", "baseline": "middle", "dx": -13.8, "color": "#111"},
          "encoding": {
            "x": {"field": "a", "type": "ordinal", "bandPosition": 0.97, "scale": {"domain": [0,1,2,3], "range": [340, 485], "paddingInner": 0, "paddingOuter": 0.042}, "axis": null},
            "y": {"datum": 7.67, "type": "quantitative", "scale": {"domain": [0, 10], "range": [796, 681.7], "nice": false, "zero": false}, "axis": null}
          }
        },
        {
          "data": {"name": "pE"},
          "mark": {"type": "text", "fontWeight": "bold", "fontSize": 6.4, "align": "left", "baseline": "middle", "dx": -7.8, "color": "#111"},
          "encoding": {
            "text": {"field": "p"},
            "x": {"field": "a", "type": "ordinal", "bandPosition": 0.97, "scale": {"domain": [0,1,2,3], "range": [340, 485], "paddingInner": 0, "paddingOuter": 0.042}, "axis": null},
            "y": {"datum": 7.67, "type": "quantitative", "scale": {"domain": [0, 10], "range": [796, 681.7], "nice": false, "zero": false}, "axis": null}
          }
        },
        {
          "data": {"name": "sumE"},
          "mark": {"type": "text", "fontWeight": "bold", "fontSize": 6.2, "baseline": "middle"},
          "encoding": {
            "text": {"field": "g"},
            "x": {"field": "pos", "type": "ordinal", "scale": {"domain": [0,1,2,3], "range": [340, 485], "paddingInner": 0, "paddingOuter": 0.042}, "axis": null},
            "y": {"datum": -1.72, "type": "quantitative", "scale": {"domain": [0, 10], "range": [796, 681.7], "nice": false, "zero": false}, "axis": null},
            "color": {"condition": {"test": "datum.g === 'Survival'", "value": "#a03cf0"}, "value": "#f2a03c"}
          }
        },
        {
          "data": {"name": "pE"},
          "mark": {"type": "rule", "color": "#555", "strokeWidth": 1},
          "encoding": {
            "x": {"field": "a", "type": "ordinal", "bandPosition": 0.05, "scale": {"domain": [0,1,2,3], "range": [340, 485], "paddingInner": 0, "paddingOuter": 0.042}, "axis": null},
            "x2": {"field": "b", "bandPosition": 0.8},
            "y": {"datum": -2.16, "type": "quantitative", "scale": {"domain": [0, 10], "range": [796, 681.7], "nice": false, "zero": false}, "axis": null}
          }
        },
        {
          "data": {"name": "pE"},
          "mark": {"type": "text", "fontStyle": "italic", "fontSize": 8.5, "baseline": "top", "lineBreak": "\n", "lineHeight": 10.7, "color": "#111"},
          "encoding": {
            "text": {"field": "name"},
            "x": {"field": "a", "type": "ordinal", "bandPosition": 0.95, "scale": {"domain": [0,1,2,3], "range": [340, 485], "paddingInner": 0, "paddingOuter": 0.042}, "axis": null},
            "y": {"datum": -2.6, "type": "quantitative", "scale": {"domain": [0, 10], "range": [796, 681.7], "nice": false, "zero": false}, "axis": null}
          }
        }
      ]
    }
  ],
  "resolve": {
    "scale": {"x": "independent", "y": "independent", "xOffset": "independent"},
    "axis": {"x": "independent", "y": "independent"}
  }
}
